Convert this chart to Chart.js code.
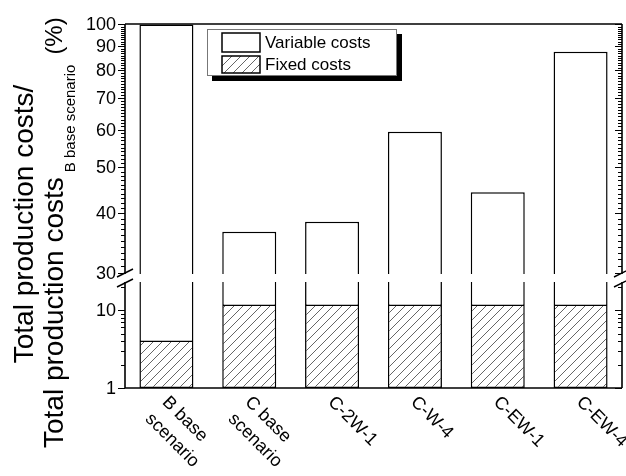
<!DOCTYPE html>
<html>
<head>
<meta charset="utf-8">
<script src="https://cdn.jsdelivr.net/npm/chart.js@4/dist/chart.umd.min.js"></script>
<style>
  html, body { margin: 0; padding: 0; background: #fff; }
  #wrap { width: 626px; height: 476px; }
</style>
</head>
<body>
<div id="wrap"><canvas id="c" width="626" height="476"></canvas></div>
<script>
// Scenario names (multi-line labels) and cost shares in % of the B base scenario total
const categories = [['B base', 'scenario'], ['C base', 'scenario'], ['C-2W-1'], ['C-W-4'], ['C-EW-1'], ['C-EW-4']];
const fixedCosts = [3.9, 11.3, 11.3, 11.3, 11.3, 11.3];
const variableCosts = [96.1, 25.3, 27.1, 48.1, 33.0, 76.3];
const totalCosts = fixedCosts.map((f, i) => f + variableCosts[i]);

// Broken log axis: upper and lower visible spans and their ticks
const upperRange = [29.8, 100.24];
const lowerRange = [1, 22.9];
const upperMajorTicks = [30, 40, 50, 60, 70, 80, 90, 100];
const lowerMajorTicks = [1, 10];
const upperMinorTicks = [];
for (let v = 31; v < 100; v++) if (v % 10) upperMinorTicks.push(v);
const lowerMinorTicks = [2, 3, 4, 5, 6, 7, 8, 9, 20];

const FONT = "'Liberation Sans', Arial, sans-serif";

// Panel shares of the plot height (upper panel, gap, lower panel)
const PLOT_H = 364, UPPER_H = 250, GAP_H = 8, LOWER_H = PLOT_H - UPPER_H - GAP_H;
const upDecades = Math.log10(upperRange[1] / upperRange[0]) * PLOT_H / UPPER_H;
const upperMin = Math.pow(10, Math.log10(upperRange[1]) - upDecades);
const lowDecades = Math.log10(lowerRange[1] / lowerRange[0]) * PLOT_H / LOWER_H;
const lowerMax = Math.pow(10, Math.log10(lowerRange[0]) + lowDecades);

// Diagonal hatch pattern for fixed costs
function makeHatch() {
  const s = 9;
  const p = document.createElement('canvas');
  p.width = s; p.height = s;
  const g = p.getContext('2d');
  g.fillStyle = '#fff';
  g.fillRect(0, 0, s, s);
  g.strokeStyle = '#555';
  g.lineWidth = 0.9;
  g.beginPath();
  g.moveTo(0, s); g.lineTo(s, 0);
  g.moveTo(-1, 1); g.lineTo(1, -1);
  g.moveTo(s - 1, s + 1); g.lineTo(s + 1, s - 1);
  g.stroke();
  return g.createPattern(p, 'repeat');
}
const ctx0 = document.getElementById('c').getContext('2d');
const hatch = makeHatch();

const axesPlugin = {
  id: 'brokenAxes',
  afterDatasetsDraw(chart) {
    const ctx = chart.ctx;
    const a = chart.chartArea;
    const yU = chart.scales.yUp, yL = chart.scales.yLow, x = chart.scales.x;
    const upBottom = yU.getPixelForValue(upperRange[0]);
    const lowTop = yL.getPixelForValue(lowerRange[1]);
    const L = a.left, R = a.right;

    ctx.save();
    ctx.strokeStyle = '#000';
    ctx.lineWidth = 1.6;
    ctx.lineCap = 'butt';
    ctx.beginPath();
    // frame: top and bottom lines, left/right axes with break
    ctx.moveTo(L, a.top); ctx.lineTo(R, a.top);
    ctx.moveTo(L, a.bottom); ctx.lineTo(R, a.bottom);
    [L, R].forEach(xx => {
      ctx.moveTo(xx, a.top); ctx.lineTo(xx, upBottom);
      ctx.moveTo(xx, lowTop); ctx.lineTo(xx, a.bottom);
    });
    ctx.stroke();

    // ticks
    ctx.lineWidth = 1.1;
    ctx.beginPath();
    const tick = (scale, v, len) => {
      const y = Math.round(scale.getPixelForValue(v)) + 0.5;
      ctx.moveTo(L - len, y); ctx.lineTo(L, y);
      ctx.moveTo(R - len, y); ctx.lineTo(R, y);
    };
    upperMajorTicks.forEach(v => tick(yU, v, 7));
    upperMinorTicks.forEach(v => tick(yU, v, 4));
    lowerMajorTicks.forEach(v => tick(yL, v, 7));
    lowerMinorTicks.forEach(v => tick(yL, v, 4));
    ctx.stroke();

    // break marks
    ctx.lineWidth = 1.4;
    ctx.beginPath();
    [L, R].forEach(xx => {
      [upBottom - 1, lowTop + 1].forEach(yy => {
        ctx.moveTo(xx - 8, yy + 4); ctx.lineTo(xx + 8, yy - 4);
      });
    });
    ctx.stroke();

    // tick labels
    ctx.fillStyle = '#000';
    ctx.font = '18px ' + FONT;
    ctx.textAlign = 'right';
    ctx.textBaseline = 'middle';
    upperMajorTicks.forEach(v => ctx.fillText(String(v), L - 9, yU.getPixelForValue(v) + 1));
    lowerMajorTicks.forEach(v => ctx.fillText(String(v), L - 9, yL.getPixelForValue(v) + 1));

    // category labels, rotated
    ctx.textAlign = 'left';
    ctx.textBaseline = 'top';
    categories.forEach((lines, i) => {
      const px = x.getPixelForValue(i);
      ctx.save();
      ctx.translate(px + 5, a.bottom + 5);
      ctx.rotate(Math.PI / 4);
      lines.forEach((s, j) => ctx.fillText(s, 0, j * 24));
      ctx.restore();
    });

    // y-axis title
    ctx.save();
    ctx.translate(33, 224);
    ctx.rotate(-Math.PI / 2);
    ctx.font = '28px ' + FONT;
    ctx.textAlign = 'center';
    ctx.textBaseline = 'alphabetic';
    ctx.fillText('Total production costs/', 0, 0);
    ctx.restore();

    ctx.save();
    ctx.translate(63, 448);
    ctx.rotate(-Math.PI / 2);
    ctx.textAlign = 'left';
    ctx.textBaseline = 'alphabetic';
    ctx.font = '28px ' + FONT;
    const main = 'Total production costs';
    ctx.fillText(main, 0, 0);
    let cx = ctx.measureText(main).width + 5;
    ctx.font = '15px ' + FONT;
    const sub = 'B base scenario';
    ctx.fillText(sub, cx, 12);
    cx += ctx.measureText(sub).width + 10;
    ctx.font = '24px ' + FONT;
    ctx.fillText('(%)', cx, -1);
    ctx.restore();

    // legend with drop shadow
    const lx = 207, ly = 29, lw = 190, lh = 47;
    ctx.fillStyle = '#000';
    ctx.fillRect(lx + 5, ly + 5, lw, lh);
    ctx.fillStyle = '#fff';
    ctx.fillRect(lx, ly, lw, lh);
    ctx.strokeStyle = '#777';
    ctx.lineWidth = 1;
    ctx.strokeRect(lx + 0.5, ly + 0.5, lw - 1, lh - 1);
    ctx.strokeStyle = '#000';
    ctx.lineWidth = 1.5;
    ctx.fillStyle = '#fff';
    ctx.fillRect(222, 33, 38, 19);
    ctx.strokeRect(222, 33, 38, 19);
    ctx.fillStyle = hatch;
    ctx.fillRect(222, 56, 38, 17);
    ctx.strokeRect(222, 56, 38, 17);
    ctx.fillStyle = '#000';
    ctx.font = '17px ' + FONT;
    ctx.textAlign = 'left';
    ctx.textBaseline = 'middle';
    ctx.fillText('Variable costs', 265, 43);
    ctx.fillText('Fixed costs', 265, 65);
    ctx.restore();
  }
};

const barCommon = {
  grouped: false,
  barPercentage: 0.652,
  categoryPercentage: 1,
  borderColor: '#000',
  borderWidth: 1.5
};

new Chart(ctx0, {
  type: 'bar',
  data: {
    labels: categories.map(c => c.join(' ')),
    datasets: [
      Object.assign({}, barCommon, {
        label: 'Fixed costs',
        yAxisID: 'yLow',
        data: fixedCosts.map(v => [lowerRange[0], v]),
        backgroundColor: hatch,
        borderSkipped: 'top'
      }),
      Object.assign({}, barCommon, {
        label: 'Variable costs',
        yAxisID: 'yLow',
        data: fixedCosts.map(v => [v, lowerRange[1]]),
        backgroundColor: '#fff',
        borderSkipped: 'top'
      }),
      Object.assign({}, barCommon, {
        label: 'Variable costs (upper)',
        yAxisID: 'yUp',
        data: totalCosts.map(t => [upperRange[0], t]),
        backgroundColor: '#fff',
        borderSkipped: 'bottom'
      })
    ]
  },
  options: {
    responsive: false,
    animation: false,
    devicePixelRatio: 1,
    layout: { padding: { left: 125, top: 24, right: 4, bottom: 88 } },
    plugins: { legend: { display: false }, tooltip: { enabled: false } },
    scales: {
      x: { type: 'category', offset: true, display: false },
      yUp: { type: 'logarithmic', min: upperMin, max: upperRange[1], bounds: 'data', display: false },
      yLow: { type: 'logarithmic', min: lowerRange[0], max: lowerMax, bounds: 'data', display: false }
    }
  },
  plugins: [axesPlugin]
});
</script>
</body>
</html>
